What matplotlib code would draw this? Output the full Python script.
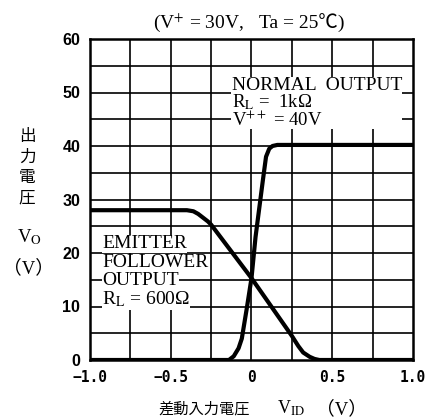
import matplotlib
matplotlib.use('Agg')
import matplotlib.pyplot as plt
from matplotlib.patches import Rectangle

plt.rcParams['font.family'] = ['Liberation Serif', 'Noto Sans CJK JP']
plt.rcParams['mathtext.fontset'] = 'stix'

# emitter follower output (R_L = 600 ohm)
ef_x = [-1.0, -0.40, -0.36, -0.33, -0.30, -0.27, -0.25, 0.0, 0.25, 0.29, 0.32, 0.36, 0.39, 0.42, 1.0]
ef_y = [28.0, 28.0, 27.8, 27.3, 26.6, 25.9, 25.3, 15.3, 4.5, 2.6, 1.4, 0.6, 0.2, 0.0, 0.0]

# normal output (R_L = 1k, V++ = 40V)
no_x = [-1.0, -0.14, -0.11, -0.08, -0.06, -0.03, 0.0, 0.025, 0.07, 0.09, 0.11, 0.13, 0.16, 1.0]
no_y = [0.0, 0.0, 0.7, 2.2, 4.0, 9.5, 15.3, 23.0, 33.5, 38.0, 39.5, 40.0, 40.2, 40.2]

xticks = [-1.0, -0.5, 0, 0.5, 1.0]
xticklabels = ['\u22121.0', '\u22120.5', '0', '0.5', '1.0']
yticks = [0, 10, 20, 30, 40, 50, 60]

W, H = 435, 418
fig = plt.figure(figsize=(W/100, H/100), dpi=100)
ax = fig.add_axes([90/W, 58/H, 323/W, 321/H])

ax.plot(ef_x, ef_y, color='black', lw=3, solid_capstyle='butt', zorder=4)
ax.plot(no_x, no_y, color='black', lw=3, solid_capstyle='butt', zorder=4)

ax.set_xlim(-1.0, 1.0)
ax.set_ylim(0, 60)
for v in [-0.75, -0.5, -0.25, 0, 0.25, 0.5, 0.75]:
    ax.axvline(v, color='black', lw=1.2, zorder=1)
for v in range(5, 60, 5):
    ax.axhline(v, color='black', lw=1.2, zorder=1)
for s in ax.spines.values():
    s.set_linewidth(1.8)

ax.set_xticks(xticks)
ax.set_xticklabels(xticklabels, family='DejaVu Sans Mono', fontweight='bold', fontsize=10.5)
ax.set_yticks(yticks)
ax.set_yticklabels([str(v) for v in yticks], family='Liberation Sans', fontweight='bold', fontsize=11.5)
ax.tick_params(axis='x', length=0, pad=7)
ax.tick_params(axis='y', length=0, pad=7)

fs = 14
# white patch behind the NORMAL OUTPUT block
ax.add_patch(Rectangle((-0.13, 43.2), 1.06, 9.7, facecolor='white', edgecolor='none', zorder=3))
ax.text(-0.121, 51.4, 'NORMAL  OUTPUT', fontsize=fs, va='center', ha='left', zorder=6)
ax.text(-0.121, 48.2, 'R$_{\\mathrm{L}}$ =  1k\u03a9', fontsize=13.5, va='center', ha='left', zorder=6)
ax.text(-0.121, 44.8, 'V$^{++}$ = 40V', fontsize=13.5, va='center', ha='left', zorder=6)

box = dict(facecolor='white', edgecolor='none', pad=0.3)
ax.text(-0.926, 21.7, 'EMITTER', fontsize=fs, va='center', ha='left', bbox=box, zorder=5)
ax.text(-0.926, 18.2, 'FOLLOWER', fontsize=fs, va='center', ha='left', bbox=box, zorder=5)
ax.text(-0.926, 14.8, 'OUTPUT', fontsize=fs, va='center', ha='left', bbox=box, zorder=5)
ax.text(-0.926, 11.3, 'R$_{\\mathrm{L}}$ = 600\u03a9', fontsize=fs, va='center', ha='left', bbox=box, zorder=5)

fig.text(244/W, 1 - 23/H, '(V$^{+}$ = 30V,', fontsize=14, ha='right', va='center')
fig.text(259/W, 1 - 23/H, 'Ta = 25\u2103)', fontsize=14, ha='left', va='center')

fig.text(204/W, 1 - 409/H, '差動入力電圧', family='Noto Sans CJK JP', fontsize=11, ha='center', va='center')
fig.text(291/W, 1 - 408/H, 'V$_{\\mathrm{ID}}$', fontsize=13, ha='center', va='center')
fig.text(342/W, 1 - 409/H, '（V）', fontsize=13.5, ha='center', va='center')

for i, ch in enumerate('出力電圧'):
    fig.text(27/W, 1 - (137 + 20.3*i)/H, ch, family='Noto Sans CJK JP', fontsize=12, ha='center', va='center')
fig.text(29/W, 1 - 237/H, 'V$_{\\mathrm{O}}$', fontsize=13.5, ha='center', va='center')
fig.text(29/W, 1 - 268/H, '（V）', fontsize=13.5, ha='center', va='center')

fig.savefig('out.png', dpi=100)
